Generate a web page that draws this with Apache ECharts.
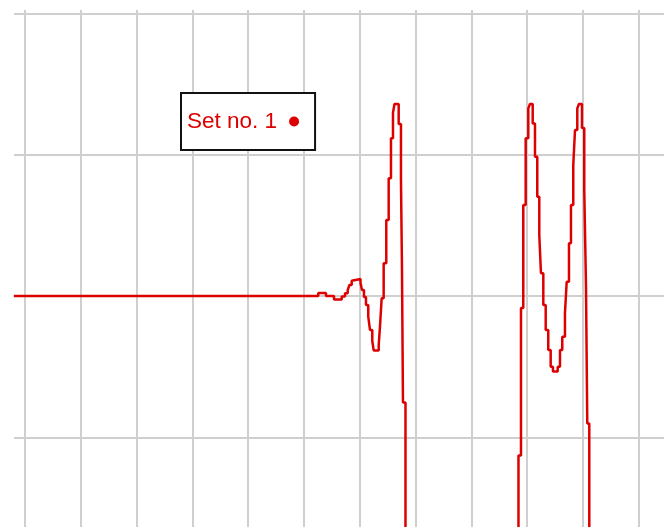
<!DOCTYPE html>
<html>
<head>
<meta charset="utf-8">
<script src="https://cdn.jsdelivr.net/npm/echarts@6/dist/echarts.min.js"></script>
<style>
  html, body { margin: 0; padding: 0; background: #ffffff; }
  #chart { width: 664px; height: 527px; }
</style>
</head>
<body>
<div id="chart"></div>
<script>
// Signal trace of "Set no. 1": time in grid divisions, amplitude in grid divisions.
const seriesName = 'Set no. 1';

const traceTime = [
  -0.2, 5.256, 5.394, 5.538, 5.676, 5.735, 5.783, 5.815, 5.855, 5.884,
  6.013, 6.039, 6.075, 6.111, 6.152, 6.183, 6.224, 6.249, 6.339, 6.362,
  6.392, 6.428, 6.475, 6.518, 6.559, 6.595, 6.622, 6.697, 6.738, 6.756,
  6.774, 6.819,
  8.844, 8.889, 8.930, 8.973, 9.020, 9.050, 9.099, 9.140, 9.181, 9.217,
  9.247, 9.289, 9.332, 9.378, 9.421, 9.462, 9.547, 9.588, 9.629, 9.677,
  9.708, 9.749, 9.785, 9.826, 9.857, 9.898, 9.928, 9.982, 10.023, 10.054,
  10.077, 10.113
];

const traceAmplitude = [
  0, 0.021, 0, -0.025, -0.004, 0.019, 0.042, 0.078, 0.108, 0.120,
  0.092, 0.042, -0.007, -0.064, -0.146, -0.240, -0.318, -0.385, -0.347, -0.217,
  -0.016, 0.231, 0.537, 0.832, 1.115, 1.296, 1.358, 1.216, 0.827, 0.198,
  -0.753, -1.867,
  -1.128, -0.085, 0.644, 1.115, 1.327, 1.358, 1.221, 0.985, 0.702, 0.431,
  0.161, -0.064, -0.240, -0.382, -0.500, -0.534, -0.500, -0.382, -0.288, -0.122,
  0.101, 0.373, 0.644, 0.926, 1.174, 1.327, 1.358, 1.188, 0.750, 0.071,
  -0.902, -1.867
];

// Visible window of the plot
const timeRange = [-0.197, 11.452];
const amplitudeRange = [-1.634, 2.023];

const traceColor = '#dd0000';
const gridColor = '#cfcfcf';

const chart = echarts.init(document.getElementById('chart'), null, { renderer: 'canvas' });

const splitLineStyle = {
  show: true,
  showMinLine: false,
  showMaxLine: false,
  lineStyle: { color: gridColor, width: 2 }
};

chart.setOption({
  animation: false,
  backgroundColor: '#ffffff',
  grid: { left: 14, right: 0, top: 10, bottom: 0, containLabel: false },
  xAxis: {
    type: 'value',
    min: timeRange[0],
    max: timeRange[1],
    splitNumber: 12,
    minInterval: 1,
    maxInterval: 1,
    axisLine: { show: false },
    axisTick: { show: false },
    axisLabel: { show: false },
    splitLine: splitLineStyle
  },
  yAxis: {
    type: 'value',
    min: amplitudeRange[0],
    max: amplitudeRange[1],
    splitNumber: 4,
    minInterval: 1,
    maxInterval: 1,
    axisLine: { show: false },
    axisTick: { show: false },
    axisLabel: { show: false },
    splitLine: splitLineStyle
  },
  legend: {
    show: true,
    left: 181,
    top: 93,
    orient: 'horizontal',
    align: 'right',
    padding: [17, 16, 17, 6],
    backgroundColor: '#ffffff',
    borderColor: '#111111',
    borderWidth: 2,
    borderRadius: 0,
    icon: 'circle',
    itemWidth: 10,
    itemHeight: 11,
    textStyle: {
      color: traceColor,
      fontFamily: 'Liberation Sans, Arial, sans-serif',
      fontSize: 22.5,
      padding: [0, 7, 0, 0]
    },
    data: [seriesName]
  },
  series: [{
    name: seriesName,
    type: 'line',
    step: 'end',
    showSymbol: false,
    symbol: 'none',
    color: traceColor,
    lineStyle: { color: traceColor, width: 2.5 },
    itemStyle: { color: traceColor },
    data: traceTime.map((t, i) => [t, traceAmplitude[i]])
  }]
});
</script>
</body>
</html>
